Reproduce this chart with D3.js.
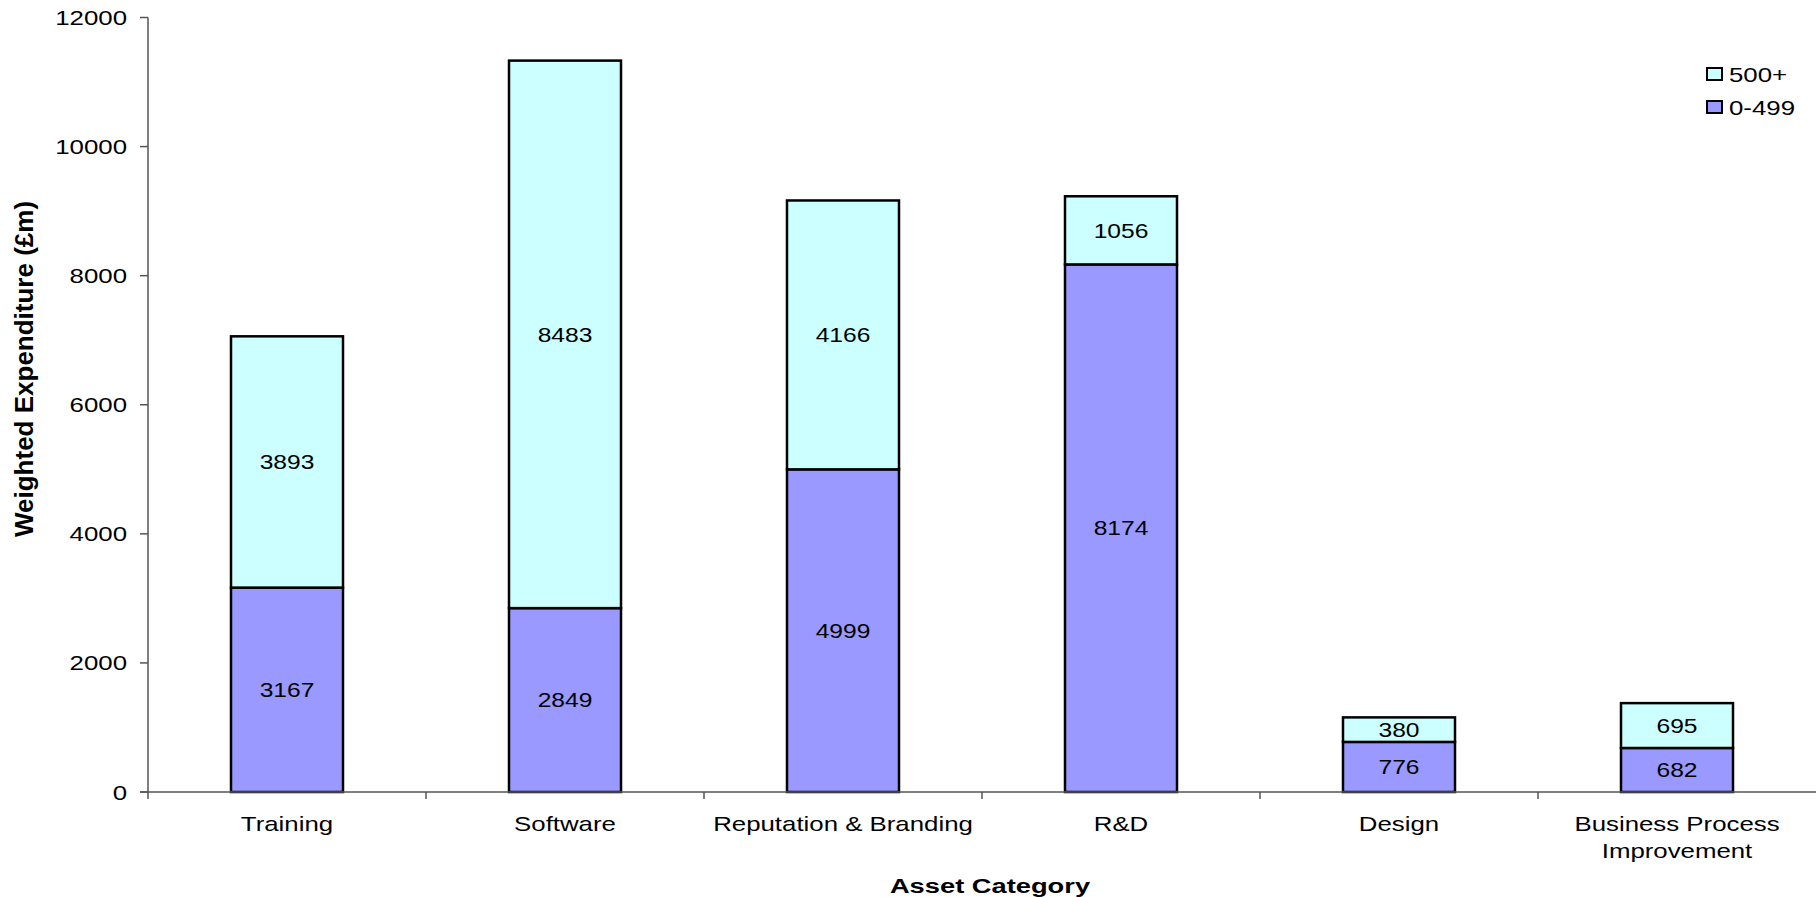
<!DOCTYPE html>
<html>
<head>
<meta charset="utf-8">
<script src="https://cdn.jsdelivr.net/npm/d3@7"></script>
<style>
  html, body { margin: 0; padding: 0; background: #fff; }
  svg { display: block; font-family: "Liberation Sans", Arial, sans-serif; }
</style>
</head>
<body>
<svg id="chart" width="1816" height="897"></svg>
<script>
// Weighted expenditure by asset category, split by firm size band
const categories = ["Training", "Software", "Reputation & Branding", "R&D", "Design", "Business Process Improvement"];
const categoryLines = [["Training"], ["Software"], ["Reputation & Branding"], ["R&D"], ["Design"], ["Business Process", "Improvement"]];
const small = [3167, 2849, 4999, 8174, 776, 682];     // 0-499
const large = [3893, 8483, 4166, 1056, 380, 695];     // 500+
const seriesNames = ["0-499", "500+"];
const yTicks = [0, 2000, 4000, 6000, 8000, 10000, 12000];

const colors = { "0-499": "#9999ff", "500+": "#ccffff" };
const SX = 1.23; // horizontal text stretch

const svg = d3.select("#chart");
const margin = { left: 148, right: 0, top: 17.5, bottom: 105 };
const W = 1816, H = 897;
const plotBottom = 792;

const xStep = d3.scaleBand().domain(categories).range([margin.left, W]);
const y = d3.scaleLinear().domain([0, 12000]).range([plotBottom, margin.top]);

const rows = categories.map((c, i) => ({ cat: c, "0-499": small[i], "500+": large[i] }));
const stack = d3.stack().keys(seriesNames)(rows);

function styledText(sel, size, weight) {
  return sel.attr("font-size", size).attr("font-weight", weight || "normal").attr("fill", "#000");
}

// Bars
const barW = 112;
const g = svg.append("g");
stack.forEach(layer => {
  layer.forEach((d, i) => {
    const cx = xStep(categories[i]) + xStep.bandwidth() / 2;
    g.append("rect")
      .attr("x", cx - barW / 2)
      .attr("y", y(d[1]))
      .attr("width", barW)
      .attr("height", y(d[0]) - y(d[1]))
      .attr("fill", colors[layer.key])
      .attr("stroke", "#000")
      .attr("stroke-width", 2.5);
  });
});

// Value labels
stack.forEach(layer => {
  layer.forEach((d, i) => {
    const cx = xStep(categories[i]) + xStep.bandwidth() / 2;
    const cy = (y(d[0]) + y(d[1])) / 2;
    const v = d[1] - d[0];
    styledText(svg.append("text"), 20)
      .attr("transform", `translate(${cx},${cy}) scale(${SX},1)`)
      .attr("text-anchor", "middle")
      .attr("dy", "0.36em")
      .text(v);
  });
});

// Y axis
const axisColor = "#555";
svg.append("line").attr("x1", margin.left).attr("x2", margin.left)
  .attr("y1", margin.top).attr("y2", plotBottom + 7).attr("stroke", axisColor).attr("stroke-width", 1.5);
yTicks.forEach(t => {
  svg.append("line").attr("x1", margin.left - 8).attr("x2", margin.left)
    .attr("y1", y(t)).attr("y2", y(t)).attr("stroke", axisColor).attr("stroke-width", 1.5);
  styledText(svg.append("text"), 21)
    .attr("transform", `translate(${margin.left - 21},${y(t)}) scale(${SX},1)`)
    .attr("text-anchor", "end")
    .attr("dy", "0.36em")
    .text(t);
});

// X axis
svg.append("line").attr("x1", margin.left - 8).attr("x2", W)
  .attr("y1", plotBottom).attr("y2", plotBottom).attr("stroke", axisColor).attr("stroke-width", 1.5);
categories.forEach((c, i) => {
  if (i > 0) {
    const tx = xStep(c);
    svg.append("line").attr("x1", tx).attr("x2", tx)
      .attr("y1", plotBottom).attr("y2", plotBottom + 7).attr("stroke", axisColor).attr("stroke-width", 1.5);
  }
  const cx = xStep(c) + xStep.bandwidth() / 2;
  categoryLines[i].forEach((line, j) => {
    styledText(svg.append("text"), 21)
      .attr("transform", `translate(${cx},${823 + j * 27}) scale(${SX},1)`)
      .attr("text-anchor", "middle")
      .attr("dy", "0.36em")
      .text(line);
  });
});

// Axis titles
styledText(svg.append("text"), 21, "bold")
  .attr("transform", `translate(990,885) scale(1.3,1)`)
  .attr("text-anchor", "middle")
  .attr("dy", "0.36em")
  .text("Asset Category");

styledText(svg.append("text"), 26, "bold")
  .attr("transform", `translate(24,369) rotate(-90)`)
  .attr("text-anchor", "middle")
  .attr("dy", "0.36em")
  .text("Weighted Expenditure (£m)");

// Legend
const legend = [{ name: "500+", y: 74 }, { name: "0-499", y: 107 }];
legend.forEach(l => {
  svg.append("rect").attr("x", 1707).attr("y", l.y - 6).attr("width", 15).attr("height", 12)
    .attr("fill", colors[l.name]).attr("stroke", "#000").attr("stroke-width", 2);
  styledText(svg.append("text"), 21)
    .attr("transform", `translate(1729,${l.y}) scale(${SX},1)`)
    .attr("dy", "0.36em")
    .text(l.name);
});
</script>
</body>
</html>
